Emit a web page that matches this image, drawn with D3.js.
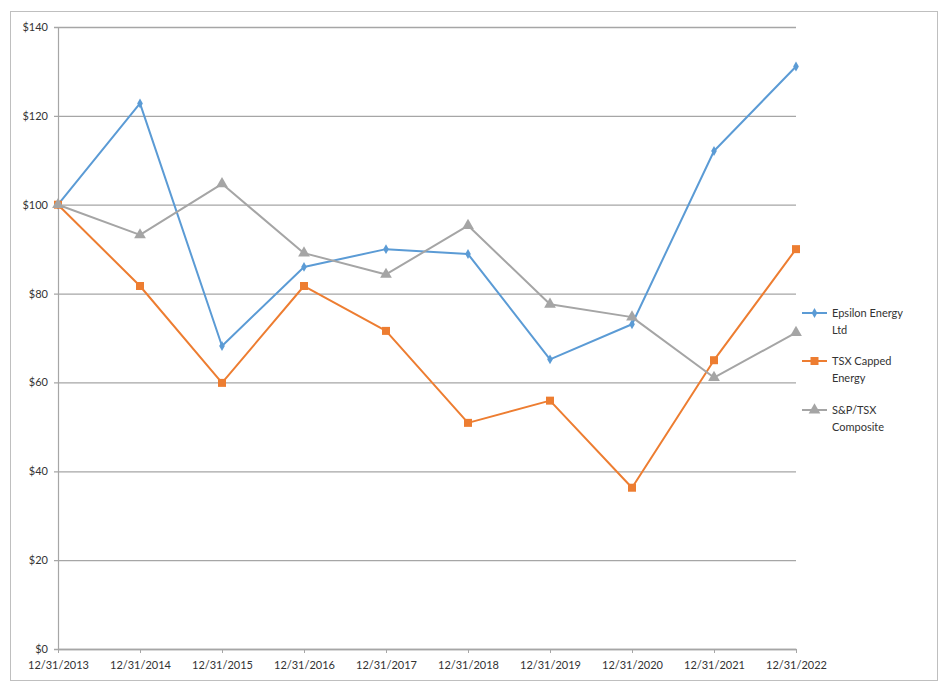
<!DOCTYPE html>
<html><head><meta charset="utf-8">
<script src="https://cdn.jsdelivr.net/npm/d3@7"></script>
<style>
html,body{margin:0;padding:0;background:#fff;}
text{font-family:Lato,"Open Sans",sans-serif;fill:#333;}
</style></head>
<body>
<svg id="chart" width="950" height="699"></svg>
<script>
const dates = ["12/31/2013","12/31/2014","12/31/2015","12/31/2016","12/31/2017","12/31/2018","12/31/2019","12/31/2020","12/31/2021","12/31/2022"];
const epsilon = [100, 122.8, 68.2, 86.0, 90.0, 88.9, 65.2, 73.1, 112.1, 131.1];
const tsxEnergy = [100, 81.7, 59.9, 81.7, 71.6, 50.9, 55.9, 36.3, 65.0, 90.0];
const spTsx = [100, 93.2, 104.7, 89.1, 84.3, 95.3, 77.6, 74.7, 61.1, 71.2];
const yTicks = [0, 20, 40, 60, 80, 100, 120, 140];
const seriesNames = [["Epsilon Energy","Ltd"],["TSX Capped","Energy"],["S&P/TSX","Composite"]];
const colors = ["#5b9bd5","#ed7d31","#a5a5a5"];

const series = [
  {name: seriesNames[0], values: epsilon, color: colors[0], symbol: d3.symbolDiamond, size: 28},
  {name: seriesNames[1], values: tsxEnergy, color: colors[1], symbol: d3.symbolSquare, size: 64},
  {name: seriesNames[2], values: spTsx, color: colors[2], symbol: d3.symbolTriangle, size: 60}
];

const svg = d3.select("#chart");
const mLeft = 58, mRight = 796, mTop = 27, mBottom = 649;

// outer border
svg.append("rect").attr("x",10.5).attr("y",11.5).attr("width",927).attr("height",669)
  .attr("fill","#fff").attr("stroke","#bfbfbf").attr("stroke-width",1);

const x = d3.scalePoint().domain(dates).range([mLeft, mRight]);
const y = d3.scaleLinear().domain([0, 140]).range([mBottom, mTop]);

// gridlines + y axis
const yAxis = d3.axisLeft(y).tickValues(yTicks).tickFormat(d => "$" + d).tickSize(-(mRight - mLeft)).tickSizeOuter(0).tickPadding(10);
const gy = svg.append("g").attr("transform", `translate(${mLeft},0)`).call(yAxis);
gy.select(".domain").attr("stroke","#a6a6a6").attr("stroke-width",1.2);
gy.selectAll(".tick line").attr("stroke","#a6a6a6").attr("stroke-width",1.3).attr("x1",-4);
gy.selectAll(".tick text").attr("font-size",11).attr("fill","#333").attr("font-family","Lato,'Open Sans',sans-serif");

// x axis
const xAxis = d3.axisBottom(x).tickSize(4).tickSizeOuter(0).tickPadding(8);
const gx = svg.append("g").attr("transform", `translate(0,${mBottom})`).call(xAxis);
gx.select(".domain").attr("stroke","#a6a6a6").attr("stroke-width",1.3);
gx.selectAll(".tick line").attr("stroke","#a6a6a6");
gx.selectAll(".tick text").attr("font-size",11).attr("fill","#333").attr("font-family","Lato,'Open Sans',sans-serif");

const line = d3.line().x((d,i) => x(dates[i])).y(d => y(d));

series.forEach(s => {
  svg.append("path").datum(s.values).attr("d", line)
    .attr("fill","none").attr("stroke", s.color).attr("stroke-width",2).attr("stroke-linejoin","round");
  svg.append("g").selectAll("path").data(s.values).join("path")
    .attr("d", d3.symbol().type(s.symbol).size(s.size))
    .attr("transform", (d,i) => `translate(${x(dates[i])},${y(d)})`)
    .attr("fill", s.color);
});

// legend
const legY = [313, 361, 410];
series.forEach((s, i) => {
  const g = svg.append("g").attr("transform", `translate(0,${legY[i]})`);
  g.append("line").attr("x1",802).attr("x2",827).attr("y1",0).attr("y2",0)
    .attr("stroke", s.color).attr("stroke-width",2);
  g.append("path").attr("d", d3.symbol().type(s.symbol).size(s.size))
    .attr("transform","translate(814.5,0)").attr("fill", s.color);
  const t = g.append("text").attr("x",832).attr("y",4).attr("font-size",11).attr("fill","#333");
  t.append("tspan").attr("x",832).attr("dy",0).text(s.name[0]);
  t.append("tspan").attr("x",832).attr("dy",16.5).text(s.name[1]);
});
</script>
</body></html>
